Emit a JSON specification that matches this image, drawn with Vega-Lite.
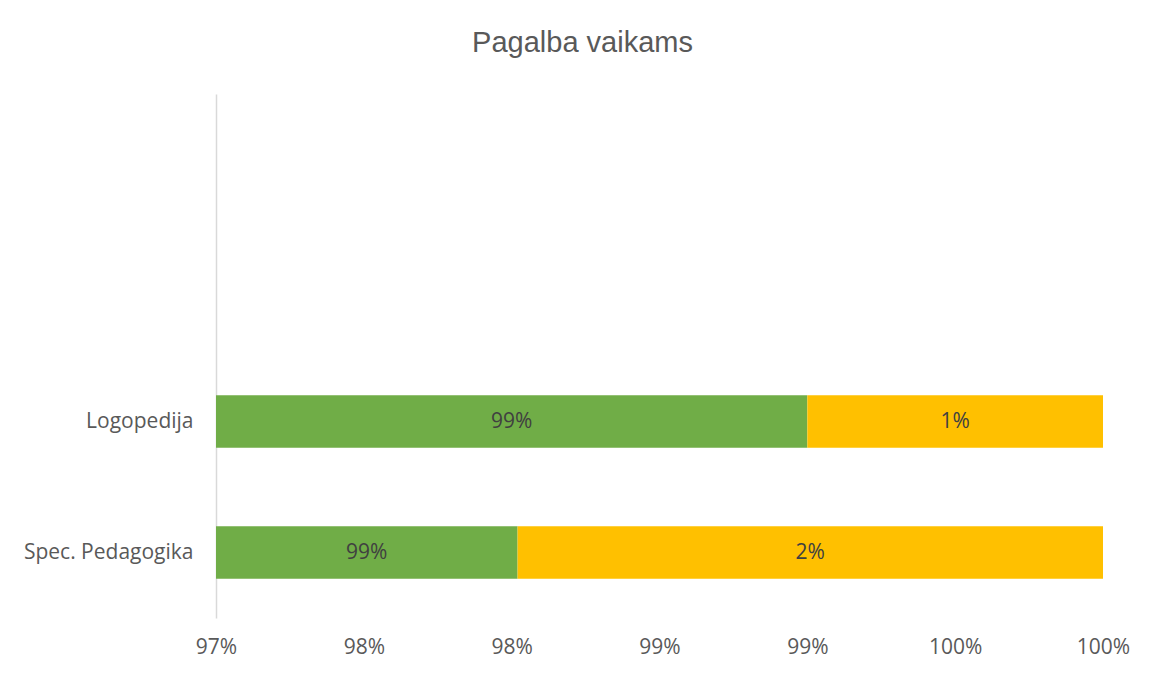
{
  "$schema": "https://vega.github.io/schema/vega-lite/v6.json",
  "width": 887,
  "height": 524,
  "autosize": {"type": "none"},
  "padding": {"left": 216, "top": 94, "right": 48, "bottom": 57},
  "background": "white",
  "title": {
    "text": "Pagalba vaikams",
    "font": "Liberation Sans",
    "fontSize": 29,
    "fontWeight": "normal",
    "color": "#595959",
    "anchor": "middle",
    "dx": -77,
    "offset": 36
  },
  "config": {"view": {"stroke": null}},
  "data": {
    "values": [
      {"category": "Logopedija", "series": "A", "value": 0.99, "label": "99%", "order": 1},
      {"category": "Logopedija", "series": "B", "value": 0.01, "label": "1%", "order": 2},
      {"category": "Spec. Pedagogika", "series": "A", "value": 0.9802, "label": "99%", "order": 1},
      {"category": "Spec. Pedagogika", "series": "B", "value": 0.0198, "label": "2%", "order": 2}
    ]
  },
  "transform": [
    {"stack": "value", "groupby": ["category"], "sort": [{"field": "order"}], "as": ["x0", "x1"]},
    {"calculate": "(max(datum.x0, 0.97) + min(datum.x1, 1)) / 2", "as": "mid"}
  ],
  "encoding": {
    "y": {
      "field": "category",
      "type": "nominal",
      "scale": {"domain": [" ", "  ", "Logopedija", "Spec. Pedagogika"], "paddingInner": 0.6, "paddingOuter": 0.3},
      "axis": {
        "title": null,
        "domain": true,
        "domainColor": "#D9D9D9",
        "domainWidth": 1.5,
        "ticks": false,
        "labelFont": "Open Sans",
        "labelFontSize": 21,
        "labelColor": "#595959",
        "labelPadding": 23
      }
    }
  },
  "layer": [
    {
      "mark": {"type": "bar", "clip": true},
      "encoding": {
        "x": {
          "field": "x0",
          "type": "quantitative",
          "scale": {"domain": [0.97, 1.0], "nice": false, "zero": false},
          "axis": {
            "title": null,
            "values": [0.97, 0.975, 0.98, 0.985, 0.99, 0.995, 1.0],
            "labelExpr": "ceil(round(datum.value*200)/2) + '%'",
            "domain": false,
            "ticks": false,
            "grid": false,
            "labelFont": "Open Sans",
            "labelFontSize": 21,
            "labelColor": "#595959",
            "labelPadding": 18,
            "labelFlush": false
          }
        },
        "x2": {"field": "x1"},
        "color": {
          "field": "series",
          "type": "nominal",
          "scale": {"domain": ["A", "B"], "range": ["#70AD47", "#FFC000"]},
          "legend": null
        }
      }
    },
    {
      "mark": {"type": "text", "font": "Open Sans", "fontSize": 21, "color": "#404040", "align": "center", "baseline": "middle"},
      "encoding": {
        "x": {"field": "mid", "type": "quantitative"},
        "text": {"field": "label"}
      }
    }
  ]
}
